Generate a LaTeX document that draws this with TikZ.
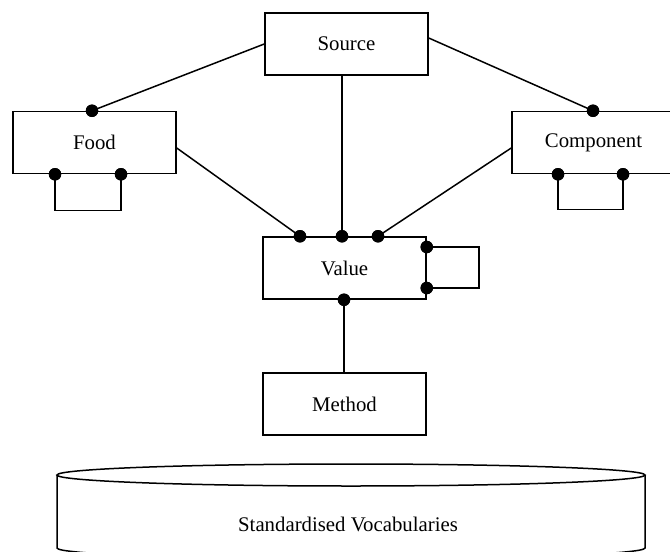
\documentclass[tikz,border=0pt]{standalone}
\usepackage{fontspec}
\setmainfont{Liberation Serif}
\begin{document}
\begin{tikzpicture}[x=1pt,y=-1pt,
  ent/.style={draw, line width=1.5pt, rectangle, minimum width=163pt, minimum height=62pt, inner sep=0pt, font=\fontsize{20.8}{24}\selectfont, fill=white},
  ln/.style={line width=1.5pt},
  dotn/.style={circle, fill=black, inner sep=0pt, minimum size=12.5pt}]
\useasboundingbox (0,0) rectangle (670,552);
\clip (0,0) rectangle (670,552);
\fill[white] (0,0) rectangle (670,552);

% entities
\node[ent] (source) at (346.5,44) {Source};
\node[ent] (food) at (94.5,142.5) {Food};
\node[ent] (comp) at (593.5,142.5) {Component};
\node[ent] (value) at (344.5,268) {Value};
\node[ent] (method) at (344.5,404) {Method};

% dots
\node[dotn] (fd) at ([xshift=-2.5pt]food.north) {};
\node[dotn] (fl1) at ([xshift=-39.5pt]food.south) {};
\node[dotn] (fl2) at ([xshift=26.5pt]food.south) {};
\node[dotn] (cd) at ([xshift=-0.5pt]comp.north) {};
\node[dotn] (cl1) at ([xshift=-35.5pt]comp.south) {};
\node[dotn] (cl2) at ([xshift=29.5pt]comp.south) {};
\node[dotn] (v1) at ([xshift=-44.5pt]value.north) {};
\node[dotn] (v2) at ([xshift=-2.5pt]value.north) {};
\node[dotn] (v3) at ([xshift=33.5pt]value.north) {};
\node[dotn] (vr1) at ([yshift=21pt]value.east) {};
\node[dotn] (vr2) at ([yshift=-20pt]value.east) {};
\node[dotn] (vb) at ([xshift=-0.5pt]value.south) {};

% connectors
\draw[ln] (source.west) -- (fd.center);
\draw[ln] ([yshift=6pt]source.east) -- (cd.center);
\draw[ln] (v2.center |- source.south) -- (v2.center);
\draw[ln] ([yshift=-5.5pt]food.east) -- (v1.center);
\draw[ln] ([yshift=-5.5pt]comp.west) -- (v3.center);
\draw[ln] (vb.center) -- (vb.center |- method.north);

% self loops
\draw[ln] (fl1.center) -- ++(0,36) -| (fl2.center);
\draw[ln] (cl1.center) -- ++(0,35) -| (cl2.center);
\draw[ln] (vr1.center) -- (479,247) |- (vr2.center);

% redraw dots on top
\foreach \d in {fd,fl1,fl2,cd,cl1,cl2,v1,v2,v3,vr1,vr2,vb} \fill (\d) circle (6.2pt);

% cylinder
\draw[ln] (351,475) ellipse [x radius=294, y radius=11];
\draw[ln] (57,475) -- (57,548) arc[start angle=180, end angle=0, x radius=294, y radius=11] -- (645,475);
\node[font=\fontsize{20.8}{24}\selectfont] (vocab) at (348,524) {Standardised Vocabularies};
\end{tikzpicture}
\end{document}
